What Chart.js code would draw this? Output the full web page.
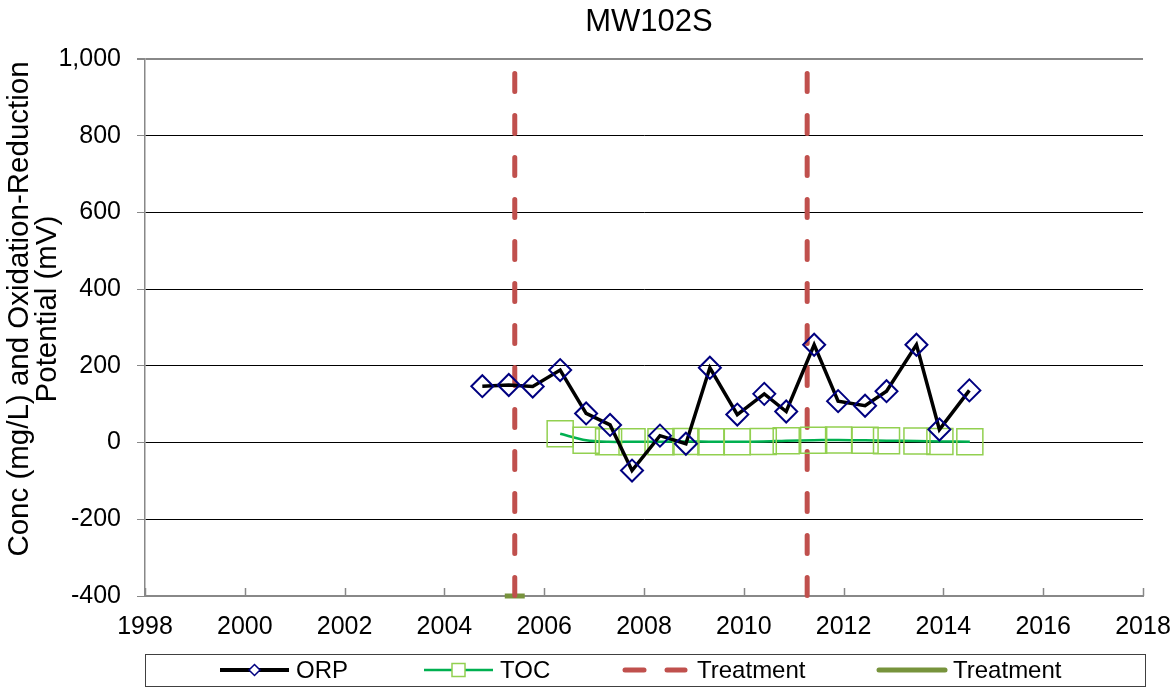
<!DOCTYPE html>
<html>
<head>
<meta charset="utf-8">
<title>MW102S</title>
<script src="https://cdn.jsdelivr.net/npm/chart.js@4.4.0/dist/chart.umd.min.js"></script>
<style>
  html, body { margin: 0; padding: 0; background: #fff; }
  #grafico { display: block; }
</style>
</head>
<body>
<canvas id="grafico" width="1175" height="687"></canvas>
<script>
const titulo = 'MW102S';
const tituloEixoY = ['Conc (mg/L) and Oxidation-Reduction', 'Potential (mV)'];

// datas em anos decimais
const orpDatas = [2004.76, 2005.29, 2005.77, 2006.32, 2006.84, 2007.32, 2007.76, 2008.32, 2008.84, 2009.32,
  2009.87, 2010.41, 2010.85, 2011.41, 2011.89, 2012.43, 2012.86, 2013.46, 2013.92, 2014.52];
const orpValores = [147, 150, 146, 189, 76, 46, -73, 18, -3, 195,
  73, 127, 81, 255, 108, 96, 134, 255, 34, 136];

const tocDatas = [2006.32, 2006.84, 2007.29, 2007.76, 2008.34, 2008.84, 2009.34, 2009.87, 2010.39,
  2010.85, 2011.40, 2011.90, 2012.43, 2012.86, 2013.47, 2013.93, 2014.53];
const tocValores = [23, 6, 2, 2, 2, 3, 2, 2, 3, 5, 6, 7, 6, 5, 4, 3, 2];

const tratamentoDatas = [2005.41, 2011.27];
const tratamentoTopo = 962;
const tratamentoBase = -400;
const tratamento2Inicio = 2005.21;
const tratamento2Fim = 2005.61;

const legendas = ['ORP', 'TOC', 'Treatment', 'Treatment'];

const fonte = "'Liberation Sans', Arial, sans-serif";

function pontos(xs, ys) {
  return xs.map((x, i) => ({ x: x, y: ys[i] }));
}

const datasets = [
  {
    label: legendas[0],
    data: pontos(orpDatas, orpValores),
    borderColor: '#000000',
    borderWidth: 3.5,
    pointStyle: 'rectRot',
    pointRadius: 11,
    pointBorderColor: '#000080',
    pointBorderWidth: 2,
    pointBackgroundColor: 'rgba(0,0,0,0)',
    tension: 0,
    order: 0
  },
  {
    label: legendas[1],
    data: pontos(tocDatas, tocValores),
    borderColor: '#00B050',
    borderWidth: 2.5,
    pointStyle: 'rect',
    pointRadius: 18.4,
    pointBorderColor: '#92D050',
    pointBorderWidth: 1.5,
    pointBackgroundColor: 'rgba(0,0,0,0)',
    tension: 0.3,
    order: 1
  }
];

tratamentoDatas.forEach(function (d) {
  datasets.push({
    label: legendas[2],
    data: [{ x: d, y: tratamentoTopo }, { x: d, y: tratamentoBase }],
    borderColor: '#C0504D',
    borderWidth: 5,
    borderDash: [18, 24],
    borderCapStyle: 'round',
    pointRadius: 0,
    clip: false,
    order: 2
  });
});

datasets.push({
  label: legendas[3],
  data: [{ x: tratamento2Inicio, y: tratamentoBase }, { x: tratamento2Fim, y: tratamentoBase }],
  borderColor: '#77933C',
  borderWidth: 5,
  pointRadius: 0,
  clip: false,
  order: 3
});

function desenharLegenda(chart) {
  const ctx = chart.ctx;
  const y = 670;
  ctx.save();
  ctx.strokeStyle = '#404040';
  ctx.lineWidth = 1;
  ctx.strokeRect(145.5, 654.5, 1000, 32);

  // ORP
  ctx.strokeStyle = '#000';
  ctx.lineWidth = 4;
  ctx.beginPath(); ctx.moveTo(220, y); ctx.lineTo(289, y); ctx.stroke();
  ctx.beginPath();
  ctx.moveTo(254.5, y - 5.5); ctx.lineTo(260, y); ctx.lineTo(254.5, y + 5.5); ctx.lineTo(249, y); ctx.closePath();
  ctx.fillStyle = '#fff'; ctx.fill();
  ctx.strokeStyle = '#000080'; ctx.lineWidth = 1.5; ctx.stroke();

  // TOC
  ctx.strokeStyle = '#00B050';
  ctx.lineWidth = 2.5;
  ctx.beginPath(); ctx.moveTo(424, y); ctx.lineTo(493, y); ctx.stroke();
  ctx.fillStyle = '#fff';
  ctx.fillRect(452, y - 6.5, 13, 13);
  ctx.strokeStyle = '#92D050'; ctx.lineWidth = 1.5;
  ctx.strokeRect(452, y - 6.5, 13, 13);

  // tratamento tracejado
  ctx.strokeStyle = '#C0504D';
  ctx.lineWidth = 5;
  ctx.lineCap = 'round';
  ctx.beginPath(); ctx.moveTo(625, y); ctx.lineTo(644, y); ctx.stroke();
  ctx.beginPath(); ctx.moveTo(667, y); ctx.lineTo(685, y); ctx.stroke();

  // tratamento verde
  ctx.strokeStyle = '#77933C';
  ctx.beginPath(); ctx.moveTo(879, y); ctx.lineTo(945, y); ctx.stroke();

  ctx.fillStyle = '#000';
  ctx.font = '24px ' + fonte;
  ctx.textBaseline = 'middle';
  ctx.textAlign = 'left';
  ctx.fillText(legendas[0], 296, y + 1);
  ctx.fillText(legendas[1], 500, y + 1);
  ctx.fillText(legendas[2], 697, y + 1);
  ctx.fillText(legendas[3], 953, y + 1);
  ctx.restore();
}

const extras = {
  id: 'extras',
  beforeDatasetsDraw(chart) {
    const ctx = chart.ctx;
    const area = chart.chartArea;
    const escalaX = chart.scales.x;
    ctx.save();
    ctx.strokeStyle = '#888';
    ctx.lineWidth = 1.5;
    escalaX.ticks.forEach(function (t) {
      const px = Math.round(escalaX.getPixelForValue(t.value)) + 0.5;
      ctx.beginPath();
      ctx.moveTo(px, area.bottom);
      ctx.lineTo(px, area.bottom - 8);
      ctx.stroke();
    });
    ctx.restore();
  },
  afterDraw(chart) {
    const ctx = chart.ctx;
    ctx.save();
    ctx.fillStyle = '#000';
    ctx.textAlign = 'center';
    ctx.textBaseline = 'middle';
    // titulo centrado sobre a area do grafico
    ctx.font = '31px ' + fonte;
    ctx.fillText(titulo, (chart.chartArea.left + chart.chartArea.right) / 2 + 5, 22);
    // titulo do eixo y, duas linhas
    ctx.font = '29.5px ' + fonte;
    ctx.translate(20, 309);
    ctx.rotate(-Math.PI / 2);
    ctx.fillText(tituloEixoY[0], 0, 0);
    ctx.fillText(tituloEixoY[1], 0, 28);
    ctx.restore();
    desenharLegenda(chart);
  }
};

Chart.defaults.font.family = fonte;
Chart.defaults.color = '#000';

new Chart(document.getElementById('grafico'), {
  type: 'line',
  data: { datasets: datasets },
  options: {
    responsive: false,
    animation: false,
    layout: { padding: { left: 0, right: 32, top: 59, bottom: 0 } },
    plugins: {
      legend: { display: false },
      tooltip: { enabled: false },
      title: { display: false }
    },
    scales: {
      x: {
        type: 'linear',
        min: 1998,
        max: 2018,
        ticks: {
          stepSize: 2,
          padding: 16,
          color: '#000',
          font: { size: 25 },
          maxRotation: 0,
          autoSkip: false,
          callback: function (v) { return String(v); }
        },
        grid: { drawOnChartArea: false, drawTicks: false },
        border: { color: '#888', width: 2 },
        afterFit: function (s) { s.height = 91; s.paddingLeft = 0; s.paddingRight = 0; }
      },
      y: {
        min: -400,
        max: 1000,
        ticks: {
          stepSize: 200,
          padding: 16,
          color: '#000',
          font: { size: 25 },
          callback: function (v) { return v.toLocaleString('en-US'); }
        },
        grid: {
          color: function (c) { return c.tick && c.tick.value === 1000 ? '#888' : '#000'; },
          lineWidth: function (c) { return c.tick && c.tick.value === 1000 ? 2 : 1; },
          tickLength: 8,
          tickColor: '#888',
          drawTicks: true
        },
        border: { color: '#888', width: 1.5 },
        afterFit: function (s) { s.width = 145; s.paddingTop = 0; s.paddingBottom = 0; }
      }
    }
  },
  plugins: [extras]
});
</script>
</body>
</html>
